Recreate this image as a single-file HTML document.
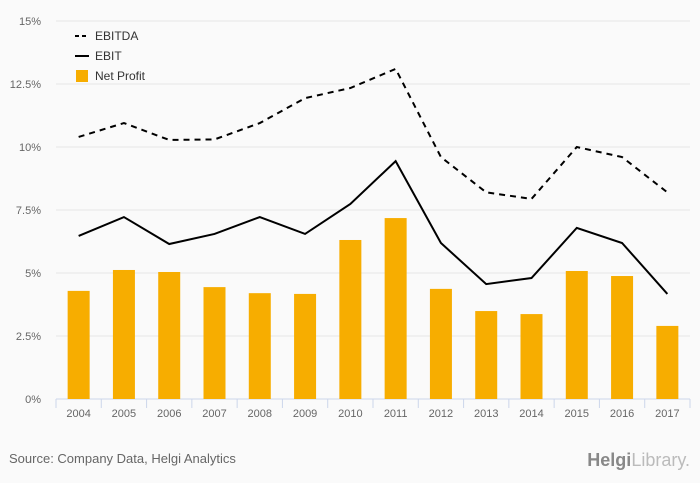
<!DOCTYPE html>
<html><head><meta charset="utf-8"><style>
body{margin:0;background:#fafafa;font-family:"Liberation Sans",sans-serif;}
svg{display:block;background:#fafafa;}
svg text{font-family:"Liberation Sans",sans-serif;}
</style></head><body>
<svg id="c" width="700" height="483"></svg>
<script>
const years=["2004","2005","2006","2007","2008","2009","2010","2011","2012","2013","2014","2015","2016","2017"];
const ebitda=[10.4,10.95,10.28,10.3,10.95,11.94,12.34,13.1,9.6,8.2,7.94,10.0,9.6,8.2];
const ebit=[6.47,7.22,6.15,6.55,7.22,6.55,7.74,9.44,6.19,4.56,4.8,6.79,6.19,4.17];
const netProfit=[4.29,5.12,5.04,4.44,4.2,4.17,6.31,7.18,4.37,3.49,3.37,5.08,4.88,2.9];
const ticks=[0,2.5,5,7.5,10,12.5,15];
const tickLabels=["0%","2.5%","5%","7.5%","10%","12.5%","15%"];
const NS="http://www.w3.org/2000/svg";
const svg=document.getElementById('c');
const x0=56,x1=690,y0=399,yTop=21;
const step=(x1-x0)/years.length;
const X=i=>x0+step*(i+0.5);
const Y=v=>y0-(v/15)*(y0-yTop);
function mk(t,a,p){const e=document.createElementNS(NS,t);for(const k in a)e.setAttribute(k,a[k]);(p||svg).appendChild(e);return e;}
ticks.forEach((t,i)=>{
 const g=mk('line',{x1:x0,x2:x1,y1:Y(t),y2:Y(t),stroke:i==0?'#ccd6eb':'#e6e6e6','stroke-width':1});
 
 
 const l=mk('text',{x:41,y:Y(t)+4,'text-anchor':'end','font-size':11,fill:'#666'});
 l.textContent=tickLabels[i];
 
 
});
for(let i=0;i<=years.length;i++){
 const tk=mk('line',{x1:x0+step*i,x2:x0+step*i,y1:y0,y2:y0+9,stroke:'#ccd6eb'});
 
 
}
years.forEach((y,i)=>{
 const b=mk('rect',{x:X(i)-11,y:Y(netProfit[i]),width:22,height:y0-Y(netProfit[i]),fill:'#f7ad00'});
 
 
 const l=mk('text',{x:X(i),y:417,'text-anchor':'middle','font-size':11,fill:'#666'});
 l.textContent=y;
 
 
});
const p1=mk('path',{d:ebitda.map((v,i)=>(i?'L':'M')+X(i)+' '+Y(v)).join(''),fill:'none',stroke:'#000','stroke-width':2,'stroke-dasharray':'6,5'});


const p2=mk('path',{d:ebit.map((v,i)=>(i?'L':'M')+X(i)+' '+Y(v)).join(''),fill:'none',stroke:'#000','stroke-width':2});


const leg=[["EBITDA","dash"],["EBIT","line"],["Net Profit","box"]];
leg.forEach((e,i)=>{
 const yy=36+i*20;
 const g=mk('g',{});
 
 
 if(e[1]=='box')mk('rect',{x:76,y:yy-6,width:12,height:12,fill:'#f7ad00'},g);
 else mk('line',{x1:75,x2:89,y1:yy,y2:yy,stroke:'#000','stroke-width':2,'stroke-dasharray':e[1]=='dash'?'4,3':'none'},g);
 const t=mk('text',{x:95,y:yy+4,'font-size':12,fill:'#333'},g);t.textContent=e[0];
});
const s=mk('text',{x:9,y:463,'font-size':13,fill:'#666'});
s.textContent="Source: Company Data, Helgi Analytics";


const h=mk('text',{x:690,y:466,'text-anchor':'end','font-size':18,fill:'#999'});
h.innerHTML='<tspan font-weight="bold" fill="#888">Helgi</tspan><tspan fill="#bbb">Library.</tspan>';


</script>
</body></html>
